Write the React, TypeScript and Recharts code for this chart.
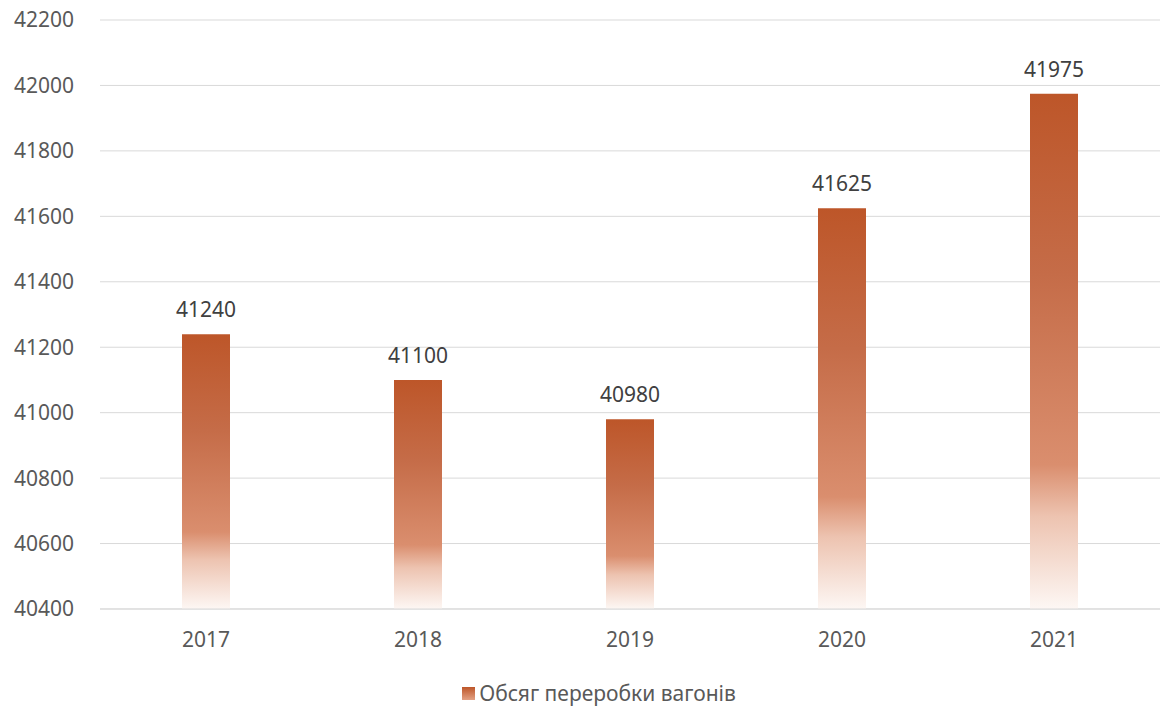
import { BarChart, Bar, XAxis, YAxis, CartesianGrid, Legend, LabelList } from 'recharts';

const years = ['2017', '2018', '2019', '2020', '2021'];
const volumes = [41240, 41100, 40980, 41625, 41975];
const yTicks = [40400, 40600, 40800, 41000, 41200, 41400, 41600, 41800, 42000, 42200];
const seriesName = 'Обсяг переробки вагонів';

const data = years.map((year, i) => ({ year, value: volumes[i] }));

const FONT = '"Noto Sans", "Open Sans", sans-serif';

function LegendBox() {
  return (
    <div style={{ display: 'flex', justifyContent: 'center', alignItems: 'center', paddingLeft: 38, fontFamily: FONT, fontSize: 21, lineHeight: '26px', color: '#595959' }}>
      <svg width={13} height={13} style={{ marginRight: 4 }}>
        <defs>
          <linearGradient id="legendGrad" x1="0" y1="0" x2="0" y2="1">
            <stop offset="0%" stopColor="#BD5629" />
            <stop offset="100%" stopColor="#E3A184" />
          </linearGradient>
        </defs>
        <rect x={0} y={0} width={13} height={13} fill="url(#legendGrad)" />
      </svg>
      <span>{seriesName}</span>
    </div>
  );
}

export default function App() {
  return (
    <div style={{ position: 'absolute', left: 0, top: 0, background: '#fff' }}>
      <BarChart width={1160} height={707} data={data} margin={{ top: 20, right: 0, left: 0, bottom: 32 }}>
        <defs>
          <linearGradient id="barGrad" x1="0" y1="0" x2="0" y2="1">
            <stop offset="0%" stopColor="#BD5629" />
            <stop offset="35%" stopColor="#C56C48" />
            <stop offset="72%" stopColor="#DA8E6E" />
            <stop offset="82%" stopColor="#EDC3B0" />
            <stop offset="100%" stopColor="#FDF7F4" />
          </linearGradient>
        </defs>
        <CartesianGrid vertical={false} stroke="#D9D9D9" />
        <XAxis
          dataKey="year"
          axisLine={{ stroke: '#D9D9D9' }}
          tickLine={false}
          tickSize={0}
          tickMargin={23}
          height={40}
          tick={{ fill: '#595959', fontSize: 21, fontFamily: FONT }}
        />
        <YAxis
          width={100}
          domain={[40400, 42200]}
          ticks={yTicks}
          axisLine={false}
          tickLine={false}
          tickSize={0}
          tickMargin={26}
          tick={{ fill: '#595959', fontSize: 21, fontFamily: FONT }}
        />
        <Legend
          verticalAlign="bottom"
          wrapperStyle={{ top: 680, left: 0, width: 1160 }}
          content={() => <LegendBox />}
        />
        <Bar dataKey="value" name={seriesName} fill="url(#barGrad)" barSize={48} isAnimationActive={false}>
          <LabelList dataKey="value" position="top" offset={17} fill="#404040" fontSize={21} fontFamily={FONT} />
        </Bar>
      </BarChart>
    </div>
  );
}
